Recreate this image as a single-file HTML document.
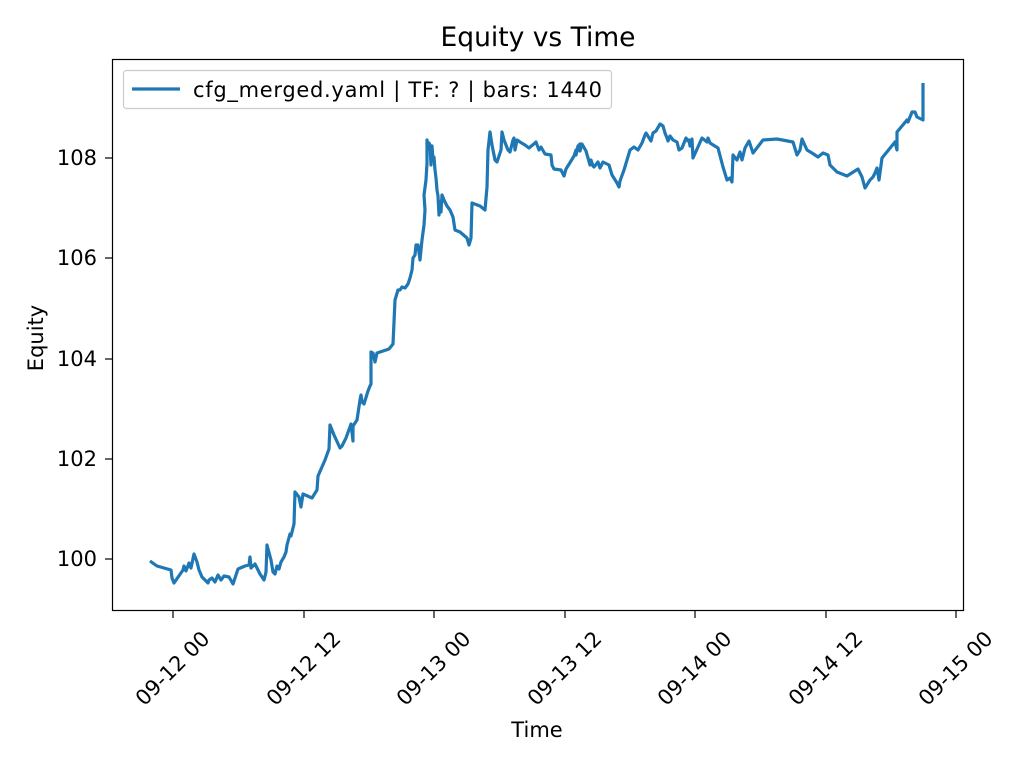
<!DOCTYPE html>
<html><head><style>body{margin:0;background:#fff}svg{display:block;font-family:"DejaVu Sans","Liberation Sans",sans-serif}</style></head><body>
<svg width="1024" height="768" xmlns="http://www.w3.org/2000/svg">
<rect width="1024" height="768" fill="#fff"/>
<text x="538" y="46" font-size="26.5" text-anchor="middle">Equity vs Time</text>
<polyline fill="none" stroke="#1f77b4" stroke-width="3.2" stroke-linejoin="round" points="150,561 157,566 171,570 172,578 174,583 183,570 184,566 186,571 189,563 191,568 194,554 197,562 199,570 202,577 208,583 209,580 212,578 215,582 218,575 221,580 224,576 229,577 233,584 238,569 245,566 249,565 250,557 251,568 255,564 260,574 264,580 266,572 267,545 271,560 273,572 275,574 277,566 279,569 281,562 284,557 286,552 287,545 290,534 291,536 294,524 295,492 299,497 301,507 303,494 312,498 317,490 318,476 325,460 329,449 330,425 334,435 340,448 342,446 346,438 351,424 353,441 353,426 357,420 360,400 361,395 362,402 364,404 368,391 370,386 371,384 371,352 373,353 375,362 377,353 389,349 393,344 395,300 398,290 400,290 402,287 405,288 408,284 410,278 412,270 413,258 415,255 416,245 418,245 420,260 422,240 424,225 425,210 424,195 426,180 427,163 427,140 428,148 429,143 430,145 431,165 432,146 433,160 434,157 435,170 436,178 437,190 438,196 439,215 440,202 441,212 442,195 444,200 447,206 450,210 453,217 455,230 460,232 467,238 469,245 471,238 472,203 480,206 485,210 487,187 488,150 490,132 492,145 495,160 497,162 501,150 502,132 504,140 508,150 510,152 513,140 514,138 515,150 517,140 520,142 525,145 529,148 535,143 536,142 539,150 541,147 545,154 551,155 552,165 554,169 561,170 564,176 566,169 571,161 574,156 576,150 576,155 578,146 580,144 580,151 582,144 586,151 590,165 591,160 593,166 594,167 598,162 600,168 603,162 609,165 612,175 617,183 619,187 620,181 624,170 627,160 630,150 634,147 638,150 642,143 645,135 646,133 651,141 653,133 656,131 660,124 663,126 665,133 667,138 668,141 670,136 673,140 677,142 679,150 682,148 686,138 688,141 689,140 690,146 692,139 693,158 702,138 707,142 708,138 710,143 718,148 723,167 727,180 730,178 732,182 733,155 737,160 740,152 742,160 745,148 749,141 753,153 763,140 777,139 793,142 797,155 800,150 802,139 807,150 812,153 818,157 823,153 828,155 830,165 837,172 847,176 858,169 862,177 865,188 870,180 873,177 875,173 877,168 879,180 882,158 895,142 897,150 897,132 907,120 908,122 912,112 915,112 917,117 923,120 923,83"/>
<rect x="112.5" y="59.5" width="851" height="551" fill="none" stroke="#000" stroke-width="1.2"/>
<g stroke="#000" stroke-width="1.2">
<line x1="112" y1="559" x2="105" y2="559"/><line x1="112" y1="459" x2="105" y2="459"/><line x1="112" y1="359" x2="105" y2="359"/><line x1="112" y1="258" x2="105" y2="258"/><line x1="112" y1="158" x2="105" y2="158"/>
<line x1="173" y1="611" x2="173" y2="618"/><line x1="304" y1="611" x2="304" y2="618"/><line x1="434" y1="611" x2="434" y2="618"/><line x1="565" y1="611" x2="565" y2="618"/><line x1="695" y1="611" x2="695" y2="618"/><line x1="826" y1="611" x2="826" y2="618"/><line x1="956" y1="611" x2="956" y2="618"/>
</g>
<g font-size="21" text-anchor="end">
<text x="97" y="566">100</text><text x="97" y="466">102</text><text x="97" y="366">104</text><text x="97" y="265">106</text><text x="97" y="165">108</text>
</g>
<g font-size="21" text-anchor="end">
<text transform="translate(211,640) rotate(-45)">09-12 00</text>
<text transform="translate(342,640) rotate(-45)">09-12 12</text>
<text transform="translate(472,640) rotate(-45)">09-13 00</text>
<text transform="translate(603,640) rotate(-45)">09-13 12</text>
<text transform="translate(733,640) rotate(-45)">09-14 00</text>
<text transform="translate(864,640) rotate(-45)">09-14 12</text>
<text transform="translate(994,640) rotate(-45)">09-15 00</text>
</g>
<text x="537" y="737" font-size="21" text-anchor="middle">Time</text>
<text transform="translate(43,338) rotate(-90)" font-size="21" text-anchor="middle">Equity</text>
<rect x="123.5" y="70.5" width="488" height="38" rx="3" fill="#fff" stroke="#ccc" stroke-width="1.2"/>
<line x1="132" y1="89" x2="180" y2="89" stroke="#1f77b4" stroke-width="3.2"/>
<text x="193" y="97" font-size="21" textLength="409">cfg_merged.yaml | TF: ? | bars: 1440</text>
</svg>
</body></html>
